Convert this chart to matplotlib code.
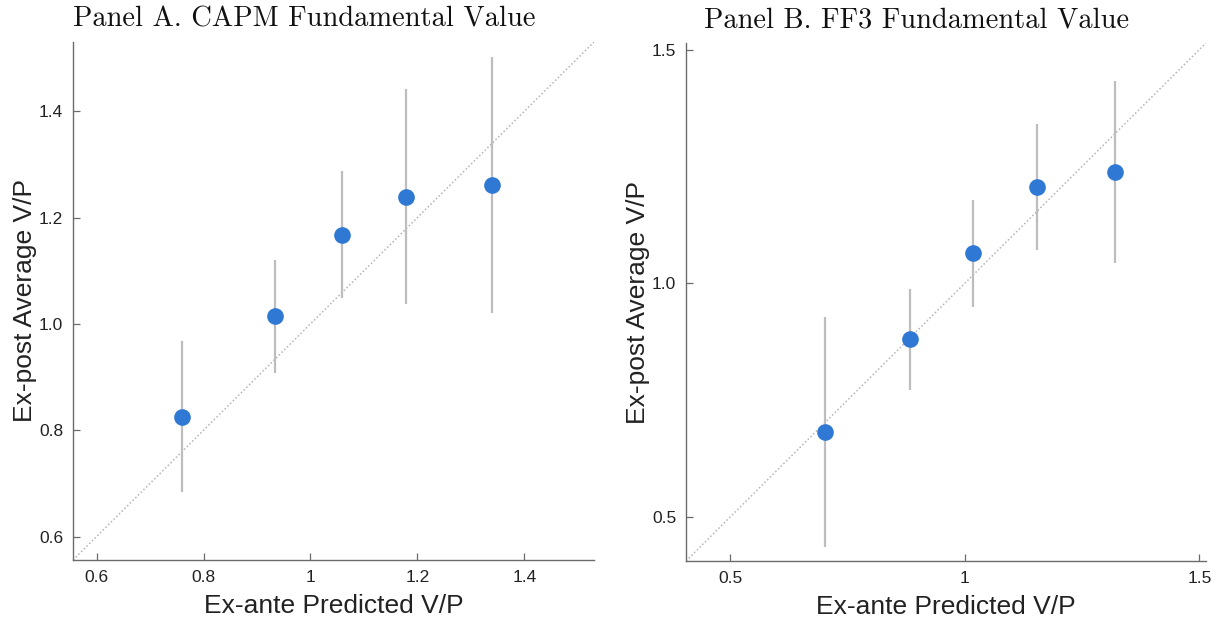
import numpy as np
import matplotlib.pyplot as plt

# Panel A: CAPM
capm_x = [0.760, 0.934, 1.058, 1.179, 1.340]
capm_y = [0.825, 1.015, 1.168, 1.239, 1.261]
capm_lo = [0.683, 0.908, 1.049, 1.037, 1.021]
capm_hi = [0.967, 1.121, 1.288, 1.441, 1.502]
capm_lim = [0.556, 1.530]
capm_xticks = [0.6, 0.8, 1.0, 1.2, 1.4]
capm_xticklabels = ['0.6', '0.8', '1', '1.2', '1.4']
capm_yticks = [0.6, 0.8, 1.0, 1.2, 1.4]
capm_yticklabels = ['0.6', '0.8', '1.0', '1.2', '1.4']

# Panel B: FF3
ff3_x = [0.702, 0.884, 1.017, 1.153, 1.321]
ff3_y = [0.682, 0.880, 1.065, 1.205, 1.238]
ff3_lo = [0.437, 0.772, 0.949, 1.071, 1.043]
ff3_hi = [0.927, 0.988, 1.179, 1.340, 1.432]
ff3_lim = [0.406, 1.514]
ff3_xticks = [0.5, 1.0, 1.5]
ff3_xticklabels = ['0.5', '1', '1.5']
ff3_yticks = [0.5, 1.0, 1.5]
ff3_yticklabels = ['0.5', '1.0', '1.5']

W, H = 1224, 624
fig = plt.figure(figsize=(W / 100, H / 100), dpi=100)
plt.rcParams['font.family'] = ['Liberation Sans', 'DejaVu Sans']

blue = '#2f78d3'
axcol = '#6b6b6b'


def panel(rect, title, x, y, lo, hi, lim, xt, xtl, yt, ytl):
    l, r, t, b = rect
    ax = fig.add_axes([l / W, 1 - b / H, (r - l) / W, (b - t) / H])
    x = np.array(x)
    y = np.array(y)
    err = [y - np.array(lo), np.array(hi) - y]
    ax.plot(lim, lim, linestyle=(0, (1, 1.5)), color='#b4b4b4', lw=1.1, zorder=1)
    ax.errorbar(x, y, yerr=err, fmt='none', ecolor='#bdbdbd', elinewidth=1.6,
                capsize=0, zorder=2)
    ax.plot(x, y, 'o', color=blue, markersize=12, markeredgewidth=0, zorder=3)
    ax.set_xlim(lim)
    ax.set_ylim(lim)
    ax.set_xticks(xt)
    ax.set_xticklabels(xtl)
    ax.set_yticks(yt)
    ax.set_yticklabels(ytl)
    for s in ['top', 'right']:
        ax.spines[s].set_visible(False)
    for s in ['left', 'bottom']:
        ax.spines[s].set_color(axcol)
        ax.spines[s].set_linewidth(1.0)
    ax.tick_params(direction='in', length=5, width=0.9, color=axcol,
                   labelsize=12.5, labelcolor='#222222', pad=7)
    ax.set_xlabel('Ex-ante Predicted V/P', fontsize=19, color='#222222')
    ax.set_ylabel('Ex-post Average V/P', fontsize=19, color='#222222')
    ax.xaxis.label.set_va('center')
    ax.yaxis.label.set_va('center')
    ax.xaxis.set_label_coords(0.5, -0.089)
    ax.yaxis.set_label_coords(-0.093, 0.5)
    ax.text(0.443, 1.03, title, transform=ax.transAxes, ha='center',
            va='baseline', fontsize=20.5, family='cmr10', color='#111111')
    return ax


panel((73, 594, 42, 560), 'Panel A. CAPM Fundamental Value',
      capm_x, capm_y, capm_lo, capm_hi, capm_lim,
      capm_xticks, capm_xticklabels, capm_yticks, capm_yticklabels)
panel((686, 1206, 43, 561), 'Panel B. FF3 Fundamental Value',
      ff3_x, ff3_y, ff3_lo, ff3_hi, ff3_lim,
      ff3_xticks, ff3_xticklabels, ff3_yticks, ff3_yticklabels)

fig.savefig('out.png', dpi=100)
